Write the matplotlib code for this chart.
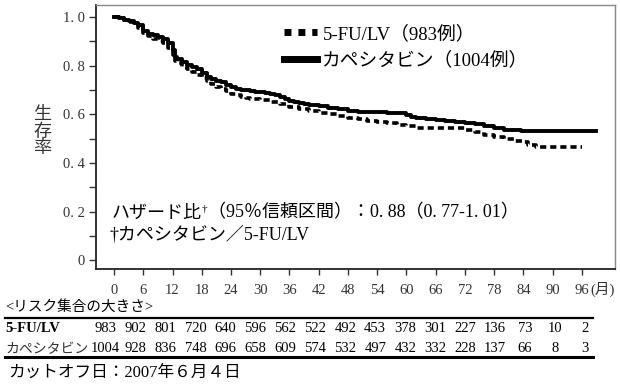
import matplotlib
matplotlib.use('Agg')
import matplotlib.pyplot as plt
from matplotlib.lines import Line2D

plt.rcParams['font.family'] = ['Liberation Serif', 'Noto Sans CJK JP']

# 生存曲線（カプラン・マイヤー）
t_cap = [0, 1, 2, 3, 4, 5, 6, 7, 8, 9, 10, 11, 12, 12.5, 13, 14, 15, 16, 17, 18,
         19, 20, 21, 22, 23, 24, 25, 26, 27, 28, 29, 30, 31, 32, 33, 34, 35, 36,
         37, 38, 39, 40, 42, 44, 46, 48, 50, 52, 54, 56, 58, 60, 61, 62, 64, 66,
         68, 70, 72, 74, 76, 78, 80, 82, 83.5, 99]
s_cap = [1.000, 0.995, 0.990, 0.983, 0.975, 0.967, 0.945, 0.932, 0.925, 0.918,
         0.910, 0.895, 0.865, 0.835, 0.830, 0.815, 0.805, 0.795, 0.785, 0.772,
         0.755, 0.745, 0.738, 0.732, 0.722, 0.712, 0.706, 0.702, 0.699, 0.697,
         0.694, 0.692, 0.689, 0.686, 0.680, 0.672, 0.663, 0.655, 0.650, 0.646,
         0.643, 0.640, 0.633, 0.627, 0.621, 0.616, 0.612, 0.610, 0.609, 0.608,
         0.606, 0.598, 0.590, 0.586, 0.582, 0.578, 0.575, 0.571, 0.567, 0.561,
         0.553, 0.545, 0.538, 0.535, 0.533, 0.533]

t_fu = [0, 1, 2, 3, 4, 5, 6, 7, 8, 9, 10, 11, 12, 12.5, 13, 14, 15, 16, 17, 18,
        19, 20, 21, 22, 23, 24, 25, 26, 27, 28, 30, 32, 34, 36, 38, 40, 42, 44,
        46, 48, 50, 52, 54, 56, 58, 60, 62, 66, 70, 72, 74, 76, 78, 80, 82, 84,
        85, 86.5, 96]
s_fu = [1.000, 0.995, 0.988, 0.980, 0.970, 0.955, 0.935, 0.922, 0.912, 0.902,
        0.893, 0.875, 0.845, 0.818, 0.812, 0.795, 0.785, 0.775, 0.763, 0.752,
        0.738, 0.727, 0.715, 0.705, 0.695, 0.686, 0.679, 0.673, 0.668, 0.664,
        0.658, 0.652, 0.643, 0.632, 0.622, 0.614, 0.608, 0.602, 0.595, 0.587,
        0.580, 0.575, 0.570, 0.565, 0.558, 0.552, 0.546, 0.545, 0.544, 0.536,
        0.526, 0.514, 0.507, 0.500, 0.492, 0.485, 0.476, 0.465, 0.465]

x_ticks = list(range(0, 97, 6))
y_ticks = [0, 0.2, 0.4, 0.6, 0.8, 1.0]
y_ticklabels = ['0', '0. 2', '0. 4', '0. 6', '0. 8', '1. 0']

# リスク集合の大きさ
risk_fu = [983, 902, 801, 720, 640, 596, 562, 522, 492, 453, 378, 301, 227, 136, 73, 10, 2]
risk_cap = [1004, 928, 836, 748, 696, 658, 609, 574, 532, 497, 432, 332, 228, 137, 66, 8, 3]

label_fu = '5-FU/LV（983例）'
label_cap = 'カペシタビン（1004例）'

W, H = 620, 388
fig = plt.figure(figsize=(W / 100, H / 100), dpi=100)
ax = fig.add_axes([96 / W, 1 - 269 / H, (615 - 96) / W, (269 - 5) / H])

def fx(px):
    return px / W

def fy(py):
    return 1 - py / H

ax.step(t_fu, s_fu, where='post', color='black', lw=2.6, linestyle=(0, (1.7, 1.1)))
ax.step(t_cap, s_cap, where='post', color='black', lw=2.8)

ax.set_xlim(-3.7, 102.8)
ax.set_ylim(-0.035, 1.05)
ax.set_xticks(x_ticks)
ax.set_xticklabels([str(v) for v in x_ticks], fontsize=10.5)
ax.set_yticks(y_ticks)
ax.set_yticklabels(y_ticklabels, fontsize=10.5)
ax.set_yticks([0.1, 0.3, 0.5, 0.7, 0.9], minor=True)
ax.tick_params(axis='y', which='both', direction='out', length=5, width=1, pad=3, colors='#333333')
ax.tick_params(axis='x', direction='out', length=4, width=1, pad=7, colors='#333333')
for side in ['top', 'right']:
    ax.spines[side].set_color('#888888')
    ax.spines[side].set_linewidth(1.0)
for side in ['left', 'bottom']:
    ax.spines[side].set_color('#222222')
    ax.spines[side].set_linewidth(1.3)

fig.text(fx(590), fy(289), '(月)', fontsize=10.5, color='#333333', ha='left', va='center')

fig.text(fx(42), fy(132), '生\n存\n率', fontsize=13, ha='center', va='center',
         linespacing=1.0, color='#333333')

# 凡例
handles = [Line2D([], [], color='black', lw=5, linestyle=(0, (1, 1))),
           Line2D([], [], color='black', lw=5)]
ax.legend(handles, [label_fu, label_cap], loc='upper left',
          bbox_to_anchor=(fx(284), fy(25)), bbox_transform=fig.transFigure,
          frameon=False, fontsize=13.5, handlelength=1.75, handletextpad=0.3,
          borderpad=0, borderaxespad=0, labelspacing=0.45)

# ハザード比
t1 = fig.text(fx(112), fy(213), 'ハザード比', fontsize=13, ha='left', va='center')
ax.annotate('†', xy=(1, 0.45), xycoords=t1, fontsize=8, ha='left', va='bottom')
ax.annotate('（95％信頼区間）：0. 88（0. 77-1. 01）', xy=(1, 0), xycoords=t1,
            xytext=(4, 0), textcoords='offset points', fontsize=13,
            ha='left', va='bottom')
fig.text(fx(110), fy(235), '†カペシタビン／5-FU/LV', fontsize=13, ha='left', va='center')

# リスク集合の表
fig.text(fx(5), fy(307), '<リスク集合の大きさ>', fontsize=10.5, ha='left', va='center')
fig.add_artist(Line2D([fx(5), fx(593)], [fy(318), fy(318)], transform=fig.transFigure,
                      color='black', lw=1.6))
fig.add_artist(Line2D([fx(5), fx(593)], [fy(357), fy(357)], transform=fig.transFigure,
                      color='black', lw=2.2))
fig.text(fx(5), fy(329), '5-FU/LV', fontsize=10.5, fontweight='bold', ha='left', va='center')
fig.text(fx(5), fy(349), 'カペシタビン', fontsize=10, ha='left', va='center',
         family=['Noto Sans CJK JP'], color='#333333')
for i, (n_fu, n_cap) in enumerate(zip(risk_fu, risk_cap)):
    xc = fx(105.5 + 29.97 * i)
    fig.text(xc, fy(329), str(n_fu), fontsize=10.5, ha='center', va='center')
    fig.text(xc, fy(349), str(n_cap), fontsize=10.5, ha='center', va='center')

fig.text(fx(8), fy(373), 'カットオフ日：2007年６月４日', fontsize=12, ha='left', va='center')

fig.savefig('out.png', dpi=100)
